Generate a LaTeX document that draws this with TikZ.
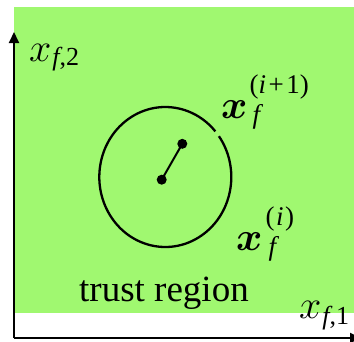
\RequirePackage{fix-cm}
\documentclass[tikz,border=0pt]{standalone}
\usepackage{amsmath}
\usepackage{fontspec}
\setmainfont{Liberation Serif}
\usetikzlibrary{arrows.meta}
\definecolor{trgreen}{RGB}{160,248,112}
\newcommand{\bigsz}{\fontsize{40}{44}\selectfont}
\newcommand{\axsub}{\fontsize{26}{30}\selectfont}
\newcommand{\itsz}{\fontsize{27}{30}\selectfont}
\begin{document}
\begin{tikzpicture}[x=1pt,y=-1pt,
  lbl/.style={inner sep=0pt, anchor=base west, font=\bigsz},
  axis/.style={line width=2pt, -{Triangle[width=10pt,length=11pt]}},
  dotnode/.style={circle, fill=black, inner sep=0pt, minimum size=10pt},
  ring/.style={line width=2.3pt},
  link/.style={line width=2pt}]
\clip (0,0) rectangle (354,341);
\fill[trgreen] (14,7) rectangle (354,313);
\coordinate (O) at (14,338);
\coordinate (ytip) at (14,32);
\coordinate (xtip) at (361,338);
\draw[axis] (O) -- (ytip);
\draw[axis] (O) -- (xtip);
\coordinate (C) at (165.3,177);
\draw[ring] (C) ++(-35.7:66 and 70) arc[start angle=-35.7, end angle=319.3, x radius=66, y radius=70];
\node[dotnode] (p0) at (161.7,179.7) {};
\node[dotnode] (p1) at (182.3,143.8) {};
\draw[link] (p0.center) -- (p1.center);
\node[lbl] (xf2) at (29,61) {$x$\raisebox{-4pt}{\axsub\kern1pt\textit{f},2}};
\node[lbl] (xf1) at (299,318) {$x$\raisebox{-6pt}{\axsub\kern1pt\textit{f},1}};
\node[lbl] (xi1) at (221,118) {$\boldsymbol{x}$\kern2pt\rlap{\raisebox{-5pt}{\itsz\kern3pt\textit{f}}}\raisebox{24.5pt}{\itsz(\textit{i}\kern2.5pt+\kern2.5pt1)}};
\node[lbl] (xi) at (236,250) {$\boldsymbol{x}$\kern3pt\rlap{\raisebox{-5pt}{\itsz\kern3pt\textit{f}}}\raisebox{24.5pt}{\itsz(\kern1.5pt\textit{i}\kern1.5pt)}};
\node[inner sep=0pt, font=\fontsize{37}{44}\selectfont, anchor=base west] (tr) at (79,301) {trust region};
\end{tikzpicture}
\end{document}
